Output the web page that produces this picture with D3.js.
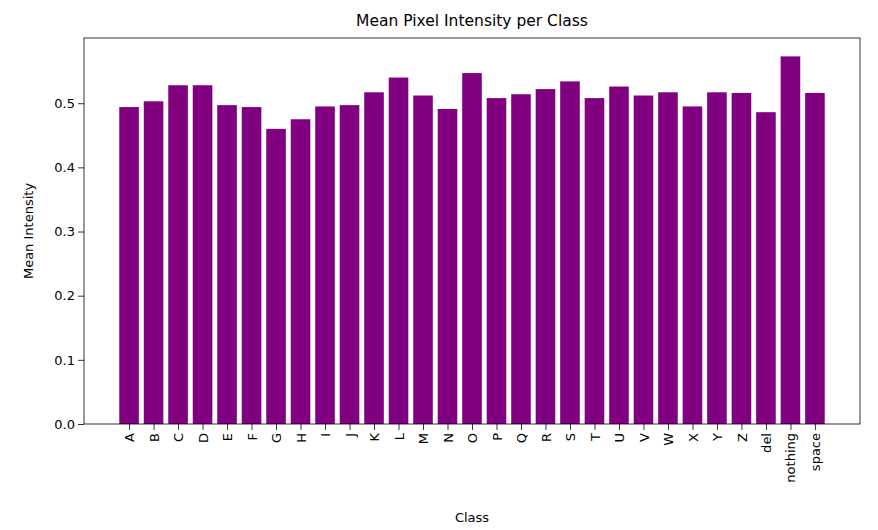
<!DOCTYPE html>
<html><head><meta charset="utf-8">
<script src="https://cdn.jsdelivr.net/npm/d3@7"></script>
<style>body{margin:0;background:#fff}text{font-family:"DejaVu Sans",sans-serif}</style>
</head><body><svg id="chart" width="878" height="530"></svg>
<script>
const classes = ['A','B','C','D','E','F','G','H','I','J','K','L','M','N','O','P','Q','R','S','T','U','V','W','X','Y','Z','del','nothing','space'];
const meanIntensity = [0.494,0.503,0.528,0.528,0.497,0.494,0.460,0.475,0.495,0.497,0.517,0.540,0.512,0.491,0.547,0.508,0.514,0.522,0.534,0.508,0.526,0.512,0.517,0.495,0.517,0.516,0.486,0.573,0.516];
const yTicks = [0,0.1,0.2,0.3,0.4,0.5];

const svg = d3.select('#chart');
const L = 84, R = 860, T = 38, B = 424;
const n = classes.length;
const pad = (n - 1 + 0.8) * 0.05;
const x = d3.scaleLinear().domain([-0.4 - pad, n - 1 + 0.4 + pad]).range([L, R]);
const y = d3.scaleLinear().domain([0, d3.max(meanIntensity) * 1.05]).range([B, T]);

svg.selectAll('rect.bar').data(meanIntensity).enter().append('rect')
  .attr('x', (d, i) => x(i - 0.4))
  .attr('width', x(0.8) - x(0))
  .attr('y', d => y(d))
  .attr('height', d => B - y(d))
  .attr('fill', 'purple');

const ya = svg.append('g').attr('transform', `translate(${L},0)`)
  .call(d3.axisLeft(y).tickValues(yTicks).tickFormat(d3.format('.1f')).tickSizeOuter(0));
const xa = svg.append('g').attr('transform', `translate(0,${B})`)
  .call(d3.axisBottom(x).tickValues(d3.range(n)).tickFormat(i => classes[i]).tickSizeOuter(0));
[ya, xa].forEach(a => { a.select('.domain').remove(); a.selectAll('line').attr('stroke', '#000').attr('stroke-width', 0.8); a.selectAll('text').attr('font-size', 13).attr('fill', '#000'); });
xa.selectAll('text').attr('transform', 'rotate(-90)').attr('text-anchor', 'end')
  .attr('x', -9).attr('y', 0).attr('dy', '0.35em');

svg.append('rect').attr('x', L).attr('y', T).attr('width', R - L).attr('height', B - T)
  .attr('fill', 'none').attr('stroke', '#000').attr('stroke-width', 0.8);

svg.append('text').attr('x', (L + R) / 2).attr('y', 26).attr('text-anchor', 'middle')
  .attr('font-size', 15.5).text('Mean Pixel Intensity per Class');
svg.append('text').attr('x', (L + R) / 2).attr('y', 522).attr('text-anchor', 'middle')
  .attr('font-size', 13).text('Class');
svg.append('text').attr('transform', `translate(33,${(T + B) / 2}) rotate(-90)`).attr('text-anchor', 'middle')
  .attr('font-size', 13).text('Mean Intensity');
</script></body></html>
